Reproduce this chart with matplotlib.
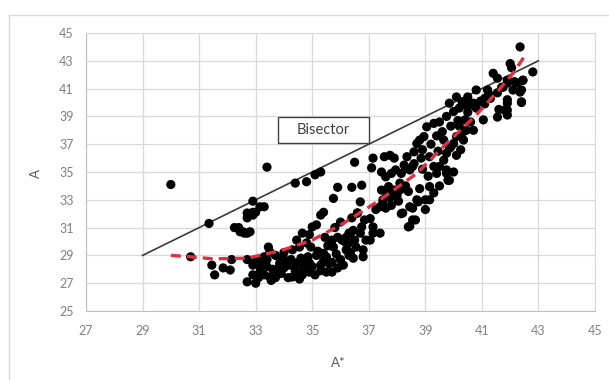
import matplotlib
matplotlib.use("Agg")
import matplotlib.pyplot as plt
from matplotlib.lines import Line2D
from matplotlib.patches import Rectangle

plt.rcParams['font.family'] = ['Lato', 'DejaVu Sans']

x_ticks = [27, 29, 31, 33, 35, 37, 39, 41, 43, 45]
y_ticks = [25, 27, 29, 31, 33, 35, 37, 39, 41, 43, 45]

# measured A* (x) and computed A (y)
a_star = [
    30.0, 31.35, 30.7, 33.4, 34.4, 34.8, 35.1, 35.3,
    32.9, 33.15, 33.3, 32.9, 32.7, 32.4, 32.55, 32.7,
    31.45, 31.55, 31.85, 32.1, 32.15, 32.7, 32.9, 33.05, 33.2, 33.4,
    33.45, 33.5, 32.7, 33.0, 33.15, 33.3, 33.5, 33.7, 32.9, 33.15, 33.4,
    33.75, 33.85, 33.95, 34.15, 34.3, 34.5, 34.65, 34.2, 34.45, 34.65, 34.9,
    35.0, 35.3, 34.3, 34.55, 34.8, 34.9, 35.0, 35.15, 35.3, 35.4, 34.45, 34.65,
    35.15, 35.4, 35.5, 35.7, 35.7, 35.5, 36.1, 35.7, 35.9, 36.2, 36.3, 36.45,
    36.2, 36.3, 36.45, 36.4, 36.6, 32.7, 32.9, 33.0, 32.25, 32.45, 32.6, 32.8,
    36.5, 35.9, 36.4, 36.75, 35.75, 36.7, 37.1, 37.15, 37.55, 37.75, 37.9,
    37.45, 37.6, 37.8, 37.95, 38.15, 38.3, 38.45, 38.55,
    37.45, 37.7, 37.9, 38.1, 37.5, 37.75, 37.4, 37.6,
    38.15, 38.55, 38.75, 39.0, 38.45, 38.65,
    38.35, 38.6, 38.7, 38.8, 38.95,
    39.15, 39.3, 39.4, 39.5, 39.65, 39.75, 39.85, 40.0, 40.1, 39.75, 39.85,
    39.05, 39.3, 39.5, 39.75, 40.0, 40.2, 40.45, 40.7,
    40.45, 40.1, 40.35, 39.15, 39.3, 39.15,
    37.05, 36.75, 36.35, 36.05, 35.75, 36.55, 36.9, 37.15, 36.8, 36.35,
    42.35, 42.0, 42.05, 42.8, 41.4, 41.55, 41.2, 41.55, 41.7, 41.9,
    42.25, 42.4, 42.45, 42.4, 41.9, 41.9, 41.55, 41.05, 41.1, 40.8,
    40.5, 40.3, 40.1, 39.85, 40.4, 40.6, 39.8, 39.75,
    36.6, 36.85, 37.15, 37.4, 36.7, 37.05, 36.5, 36.8,
    37.5, 37.75, 38.1, 38.2, 38.45, 38.7, 38.55, 38.4,
    41.9, 42.15, 42.45, 41.75, 42.1, 42.35, 41.9, 42.4, 41.8, 41.9,
    33.6, 33.9, 34.0, 34.4, 34.7, 34.9, 35.1, 34.1, 34.6, 33.3,
    33.7, 34.0, 35.3, 35.6, 35.9, 33.1, 32.9, 34.8, 35.4, 36.0,
    38.9, 39.2, 39.4, 39.6, 39.9, 40.2, 40.5, 40.8, 41.1, 41.3,
    38.6, 38.9, 39.1, 38.3, 38.0, 37.8, 38.8, 39.5, 40.0, 39.9, 40.3, 40.7,
    33.25, 33.55, 33.85, 34.25, 34.55, 34.85, 35.2, 35.55, 35.85, 36.15,
    36.0, 36.25, 35.45, 35.8, 34.95, 37.25, 37.65, 38.05, 38.25, 38.85,
    39.45, 39.65, 40.15, 40.55, 40.95, 41.25, 41.6, 40.25, 39.0, 38.4,
]
a_calc = [
    34.1, 31.3, 28.9, 35.35, 34.2, 34.3, 34.8, 35.0,
    32.9, 32.5, 32.5, 32.1, 31.7, 31.0, 30.7, 30.6,
    28.3, 27.6, 28.1, 27.95, 28.7, 28.7, 28.55, 28.7, 28.55, 28.7,
    29.6, 29.25, 27.1, 27.0, 27.8, 27.6, 27.45, 27.4, 28.3, 28.2, 28.2,
    27.95, 28.45, 28.8, 27.4, 27.45, 27.6, 27.6, 28.3, 28.45, 28.3, 28.45,
    28.2, 28.3, 29.4, 29.6, 29.9, 30.5, 31.05, 31.2, 31.9, 32.1, 30.1, 30.6,
    29.0, 29.15, 28.9, 28.5, 27.8, 27.8, 28.3, 30.1, 30.3, 29.4, 29.0, 28.8,
    30.3, 30.6, 30.8, 31.7, 32.05, 32.05, 31.9, 32.1, 31.0, 30.7, 30.6, 30.7,
    35.7, 33.9, 33.9, 34.05, 33.1, 32.85, 35.3, 36.0, 36.1, 36.2, 36.0,
    35.0, 34.65, 34.9, 35.15, 34.9, 35.25, 35.15, 35.4,
    33.7, 33.95, 33.7, 34.2, 33.0, 33.15, 32.5, 32.4,
    32.0, 32.4, 32.85, 33.0, 31.1, 31.55,
    36.1, 36.45, 37.05, 37.3, 37.55,
    36.1, 35.4, 34.9, 35.4, 35.85, 36.35, 36.7, 37.05, 36.2, 35.15, 34.4,
    38.25, 38.5, 38.6, 39.0, 39.35, 39.6, 39.8, 39.95,
    38.0, 37.55, 37.3, 33.95, 33.5, 33.0,
    31.65, 31.05, 30.6, 30.1, 29.6, 29.6, 30.1, 30.6, 28.9, 29.2,
    44.0, 42.8, 42.5, 42.2, 42.1, 41.75, 40.9, 40.7, 41.1, 41.4,
    41.4, 40.9, 41.6, 40.0, 39.45, 39.95, 38.95, 38.75, 40.3, 40.9,
    40.4, 40.05, 40.4, 39.95, 38.75, 38.6, 34.4, 34.9,
    32.05, 31.55, 31.05, 30.6, 30.6, 30.1, 30.1, 29.4,
    32.8, 33.2, 33.7, 32.05, 32.5, 33.0, 31.55, 31.05,
    41.6, 41.5, 41.6, 41.1, 40.9, 40.75, 40.2, 40.05, 39.45, 39.1,
    28.0, 27.7, 28.1, 27.9, 28.0, 27.8, 27.6, 28.6, 28.8, 28.9,
    29.0, 29.2, 27.9, 28.4, 28.1, 27.4, 27.6, 28.5, 28.6, 28.7,
    36.6, 37.0, 37.6, 37.9, 38.3, 38.3, 39.3, 39.6, 39.9, 40.3,
    35.6, 35.2, 34.7, 34.0, 33.3, 32.6, 33.8, 34.0, 35.0, 36.8, 37.8, 38.0,
    28.4, 27.2, 28.25, 28.7, 27.3, 28.9, 29.3, 29.7, 29.1, 30.0,
    31.4, 29.8, 30.3, 31.0, 29.6, 32.3, 33.4, 32.9, 35.5, 36.0,
    36.5, 37.3, 38.7, 39.8, 40.1, 40.6, 39.5, 36.6, 32.3, 33.6,
]

# polynomial trend line
trend_x = [30.0, 30.7, 31.5, 32.7, 33.9, 35.0, 36.1, 37.4, 38.7, 39.75, 40.8, 41.6, 42.1, 42.5]
trend_y = [29.0, 28.9, 28.75, 28.8, 29.35, 30.1, 31.3, 33.0, 34.9, 37.05, 39.1, 40.9, 42.1, 43.3]

bisector_x = [29, 43]
bisector_y = [29, 43]

fig = plt.figure(figsize=(6.09, 3.80), dpi=100)
ax = fig.add_axes([86/609, 1-311/380, 509/609, 278/380])

ax.set_xlim(27, 45)
ax.set_ylim(25, 45)
ax.set_xticks(x_ticks)
ax.set_yticks(y_ticks)
ax.grid(True, color='#d9d9d9', linewidth=0.9)
ax.set_axisbelow(True)
for s in ['top', 'right']:
    ax.spines[s].set_color('#d9d9d9')
for s in ['left', 'bottom']:
    ax.spines[s].set_color('#bfbfbf')
ax.tick_params(length=0, labelsize=9, labelcolor='#808080')
ax.tick_params(axis='y', pad=9)
ax.tick_params(axis='x', pad=10)

ax.plot(bisector_x, bisector_y, color='#3a3a3a', linewidth=1.2, zorder=2)
ax.scatter(a_star, a_calc, s=44, color='black', edgecolors='none', zorder=3)
ax.plot(trend_x, trend_y, color='#e03040', linewidth=2.4, dashes=(3, 1.8), zorder=4)

ax.add_patch(Rectangle((33.8, 37.1), 3.2, 1.85, facecolor='white',
                       edgecolor='#404040', linewidth=1.0, zorder=5))
ax.text(35.4, 38.02, 'Bisector', ha='center', va='center', fontsize=10.5,
        color='#404040', zorder=6)

ax.set_xlabel('A*', fontsize=9.5, color='#595959')
ax.set_ylabel('A', fontsize=9.5, color='#595959')
ax.xaxis.set_label_coords(0.495, -0.165)
ax.yaxis.set_label_coords(-0.086, 0.496)

# outer chart frame (left and top edges visible)
fig.add_artist(Line2D([9/609, 9/609], [0, 1-15/380], color='#d9d9d9', linewidth=1.0))
fig.add_artist(Line2D([9/609, 1], [1-15/380, 1-15/380], color='#d9d9d9', linewidth=1.0))

fig.savefig('out.png', dpi=100)
